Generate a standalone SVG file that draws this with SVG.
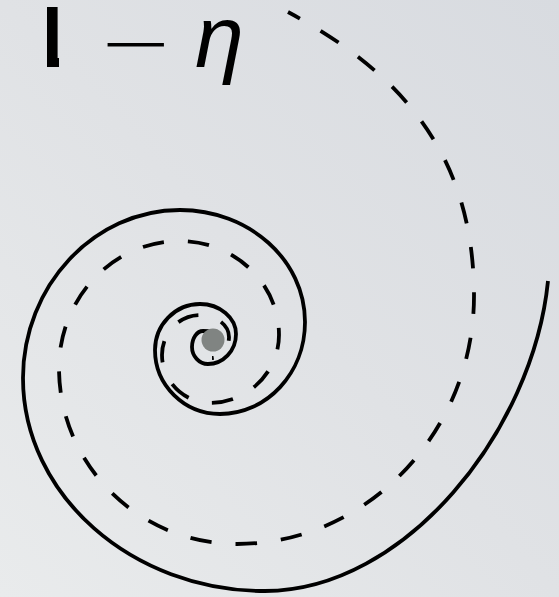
<svg xmlns="http://www.w3.org/2000/svg" width="559" height="597" viewBox="0 0 559 597">
  <defs>
    <linearGradient id="bg" x1="1" y1="0" x2="0" y2="1">
      <stop offset="0" stop-color="#d8dbe0"/>
      <stop offset="0.5" stop-color="#e0e2e5"/>
      <stop offset="1" stop-color="#e9ebec"/>
    </linearGradient>
    <clipPath id="labelclip">
      <rect x="47" y="-30" width="12" height="140"/>
      <rect x="95" y="-30" width="470" height="140"/>
    </clipPath>
  </defs>
  <style>
    .spiral { fill: none; stroke: #000; stroke-width: 3.8; stroke-linecap: butt; stroke-linejoin: round; }
    .dashed { stroke-dasharray: 21.5 24; stroke-dashoffset: 8; }
    .label { font-family: "Liberation Sans", Arial, sans-serif; font-size: 88px; fill: #000; }
  </style>
  <rect x="0" y="0" width="559" height="597" fill="url(#bg)"/>
  <g id="label">
    <text class="label" y="67" clip-path="url(#labelclip)"><tspan x="25" font-weight="bold">1</tspan><tspan x="98" y="73" font-family="'DejaVu Sans', sans-serif" font-weight="200" font-size="90px">−</tspan><tspan x="195" y="67" font-style="italic">η</tspan></text>
  </g>
  <g id="connectors">
    <path id="solid-spiral" class="spiral" d="M548,281 C533,431 405,591 265,591 C132,591 23,495 23,378 C23,286 94,210 180,210 C249,210 305,260 305,322 C305,373 267,414 220,414 C184,414 155,385 155,350 C155,325 175,304 200,304 C220,304 236,318 236,334 C236,351 223,364 208,364 C199,364 192,356 192,347 C192,338 197,331 203,331 C207,331 210,331 212,332"/>
    <path id="dashed-spiral" class="spiral dashed" d="M288,12 C402,73 474,156 474,296 C474,432 367,544 237,544 C139,544 59,465 59,368 C59,298 113,241 180,241 C234,241 279,283 279,335 C279,372 248,403 210,403 C184,403 162,381 162,355 C162,333 179,315 200,315 C216,315 229,325 229,337 C229,349 220,358 212,358"/>
  </g>
  <g id="center">
    <circle cx="213" cy="340" r="11.5" fill="#808482"/>
  </g>
</svg>
